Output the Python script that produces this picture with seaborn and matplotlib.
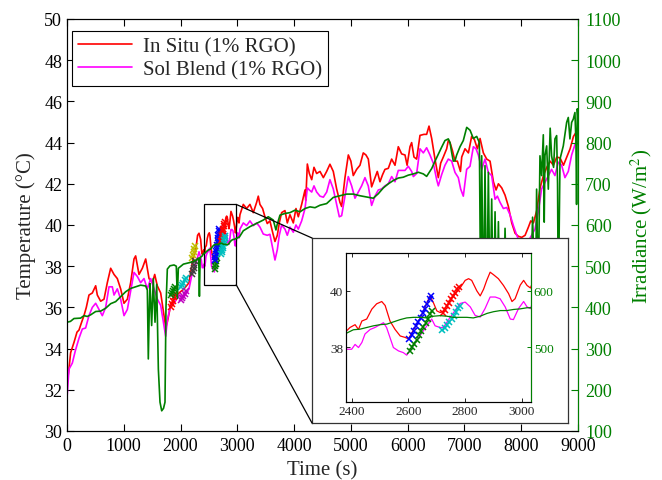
import numpy as np
import pandas as pd
import seaborn as sns
import matplotlib
matplotlib.use("Agg")
import matplotlib.pyplot as plt
from matplotlib.patches import Rectangle, ConnectionPatch
from matplotlib.lines import Line2D

# ---------------- data ----------------
# In Situ (1% RGO) temperature, deg C
t_insitu = [0, 30, 64, 123, 176, 211, 260, 299, 340, 387, 446, 505, 534, 593, 652, 710, 769, 828, 886, 945,
            1004, 1063, 1121, 1180, 1209, 1268, 1327, 1386, 1445, 1504, 1545, 1590, 1650, 1709, 1738, 1768, 1826,
            1885, 1973, 2061, 2149, 2208, 2267, 2300, 2325, 2354, 2372, 2382, 2394, 2412, 2424, 2436, 2453, 2471,
            2488, 2506, 2518, 2535, 2553, 2571, 2588, 2600, 2640, 2676, 2688, 2700, 2712, 2723, 2750, 2782, 2800,
            2812, 2823, 2841, 2853, 2865, 2876, 2888, 2900, 2917, 2935, 2953, 2965, 2976, 2994, 3006, 3018, 3030,
            3046, 3105, 3164, 3222, 3281, 3340, 3369, 3398, 3445, 3486, 3527, 3574, 3621, 3663, 3704, 3739, 3780,
            3839, 3880, 3927, 3986, 4033, 4074, 4133, 4192, 4205, 4233, 4268, 4310, 4350, 4397, 4456, 4515, 4573,
            4631, 4690, 4749, 4807, 4837, 4896, 4955, 5000, 5042, 5101, 5160, 5218, 5265, 5307, 5365, 5424, 5465,
            5512, 5559, 5600, 5659, 5718, 5777, 5835, 5894, 5953, 5990, 6041, 6070, 6111, 6158, 6217, 6287, 6334,
            6376, 6423, 6481, 6540, 6581, 6628, 6687, 6716, 6746, 6790, 6834, 6875, 6930, 6952, 7010, 7070, 7127,
            7175, 7228, 7275, 7333, 7392, 7451, 7510, 7557, 7598, 7657, 7715, 7774, 7833, 7892, 7950, 8009, 8068,
            8127, 8168, 8215, 8273, 8332, 8391, 8450, 8509, 8567, 8626, 8685, 8744, 8803, 8861, 8920, 8967, 9000]
T_insitu = [32.3, 32.9, 33.8, 34.3, 34.8, 34.9, 35.3, 35.6, 36.0, 36.6, 36.7, 37.05, 36.6, 36.3, 36.4, 37.2, 37.9,
            37.6, 37.4, 36.9, 36.2, 36.4, 37.2, 38.35, 38.5, 37.6, 37.9, 38.35, 37.4, 37.2, 37.6, 37.05, 36.7, 35.6,
            35.0, 35.3, 36.1, 36.4, 36.7, 36.9, 37.2, 38.2, 38.8, 39.5, 39.6, 39.3, 38.7, 38.58, 38.7, 38.8, 38.63,
            38.93, 39.0, 39.35, 39.54, 39.62, 39.48, 38.93, 38.63, 38.4, 38.35, 38.3, 39.0, 39.82, 39.58, 39.29,
            39.23, 39.29, 39.7, 40.1, 40.37, 40.43, 40.37, 40.0, 39.82, 40.06, 40.37, 40.66, 40.57, 40.43, 40.19,
            39.9, 39.62, 39.72, 40.2, 40.37, 40.19, 40.1, 40.5, 41.0, 40.8, 41.0, 40.6, 41.1, 41.4, 41.0, 40.8,
            40.4, 40.07, 40.2, 39.65, 39.2, 39.5, 40.1, 40.6, 40.7, 40.1, 40.5, 40.1, 40.8, 40.4, 41.0, 41.7, 41.2,
            42.96, 42.5, 42.2, 42.8, 42.5, 42.6, 42.3, 42.6, 42.95, 42.6, 41.75, 41.1, 40.9, 42.3, 43.4, 43.1,
            42.4, 42.7, 42.9, 43.5, 43.4, 43.2, 41.85, 42.3, 42.6, 42.1, 42.45, 42.7, 42.75, 43.2, 42.9, 43.8,
            43.45, 43.4, 42.9, 43.8, 44.0, 43.3, 43.2, 44.35, 44.4, 44.4, 44.8, 44.2, 43.2, 42.3, 43.0, 43.3,
            43.7, 44.1, 44.0, 43.6, 43.1, 43.1, 42.6, 43.3, 43.7, 43.5, 44.3, 44.15, 43.7, 44.2, 43.5, 43.2, 43.1,
            42.1, 41.7, 42.0, 41.8, 41.45, 40.9, 40.1, 39.6, 39.45, 39.4, 39.5, 39.9, 40.2, 40.1, 40.7, 41.8,
            42.4, 42.8, 43.1, 42.9, 43.3, 43.25, 42.9, 43.3, 43.7, 44.3, 44.5, 44.4]

# Sol Blend (1% RGO) temperature, deg C
t_solblend = [0, 35, 94, 147, 211, 270, 328, 387, 446, 505, 564, 622, 681, 740, 798, 828, 886, 945, 1004, 1063,
              1121, 1180, 1239, 1297, 1356, 1415, 1474, 1533, 1592, 1650, 1709, 1738, 1768, 1826, 1885, 1973,
              2061, 2149, 2208, 2267, 2325, 2366, 2382, 2400, 2412, 2424, 2436, 2447, 2465, 2482, 2500, 2512,
              2523, 2535, 2547, 2565, 2582, 2594, 2640, 2682, 2694, 2712, 2723, 2750, 2782, 2800, 2818, 2835,
              2853, 2870, 2888, 2906, 2923, 2941, 2959, 2970, 2988, 3006, 3018, 3030, 3046, 3105, 3164, 3222,
              3281, 3340, 3398, 3457, 3527, 3574, 3621, 3663, 3704, 3739, 3780, 3839, 3880, 3927, 3986, 4033,
              4074, 4133, 4192, 4233, 4268, 4310, 4350, 4397, 4456, 4515, 4574, 4631, 4690, 4749, 4796, 4837,
              4896, 4954, 5013, 5072, 5130, 5189, 5248, 5306, 5365, 5424, 5483, 5542, 5600, 5659, 5718, 5777,
              5835, 5894, 5953, 6011, 6070, 6100, 6158, 6217, 6276, 6334, 6393, 6452, 6511, 6540, 6599, 6657,
              6716, 6775, 6834, 6892, 6933, 6980, 7039, 7098, 7157, 7204, 7245, 7304, 7362, 7421, 7480, 7539,
              7580, 7627, 7686, 7745, 7803, 7862, 7921, 7980, 8040, 8100, 8183, 8242, 8300, 8359, 8418, 8477,
              8535, 8594, 8653, 8712, 8770, 8829, 8888, 8946, 8976, 9000]
T_solblend = [31.6, 33.0, 33.3, 33.9, 34.5, 34.95, 35.0, 35.6, 36.0, 36.2, 35.9, 35.6, 36.0, 37.0, 37.0, 36.6,
              36.9, 36.4, 35.6, 35.9, 36.8, 37.7, 37.5, 37.2, 37.4, 36.9, 37.4, 36.9, 36.4, 36.1, 35.1, 34.6,
              35.4, 36.1, 36.2, 36.6, 36.5, 36.9, 37.7, 38.1, 38.7, 38.3, 37.93, 37.93, 38.1, 37.99, 38.17,
              38.47, 38.63, 38.7, 38.8, 38.87, 38.7, 38.35, 37.99, 37.87, 37.81, 37.72, 38.4, 39.0, 38.76, 38.7,
              38.7, 39.1, 39.55, 39.6, 39.43, 39.13, 39.07, 39.37, 39.78, 39.78, 39.72, 39.43, 39.0, 38.98,
              39.37, 39.62, 39.43, 39.37, 39.8, 40.1, 39.97, 40.2, 39.97, 40.1, 39.9, 39.56, 39.5, 39.55, 38.9,
              38.3, 38.8, 39.5, 40.0, 39.8, 39.5, 39.9, 39.65, 40.0, 39.8, 40.2, 40.8, 41.8, 41.7, 41.6, 41.9,
              41.6, 41.4, 41.35, 41.6, 42.2, 41.75, 41.0, 40.4, 40.45, 41.4, 42.35, 41.9, 41.3, 41.6, 41.9, 42.3,
              41.9, 40.95, 41.4, 41.7, 41.75, 41.9, 42.0, 42.35, 42.1, 42.65, 42.65, 42.65, 42.85, 42.6, 42.35,
              42.5, 43.7, 43.5, 43.75, 43.4, 43.0, 42.2, 41.9, 42.45, 42.9, 43.2, 43.1, 42.55, 42.3, 41.75, 41.4,
              42.7, 42.85, 43.8, 43.7, 43.4, 42.7, 43.2, 42.55, 42.4, 41.25, 41.4, 41.1, 40.8, 40.85, 40.5, 39.97,
              39.5, 39.15, 39.0, 39.1, 39.5, 39.8, 40.65, 41.75, 42.07, 42.4, 42.7, 42.4, 43.05, 42.9, 42.3, 42.6,
              43.4, 43.9, 44.1, 43.9]

# Irradiance, W/m^2
t_irr = [0, 60, 123, 240, 299, 358, 417, 505, 593, 681,
         769, 857, 945, 1033, 1121, 1209, 1297, 1386, 1415, 1432,
         1450, 1462, 1491, 1520, 1550, 1580, 1609, 1638, 1668, 1700,
         1726, 1743, 1767, 1814, 1885, 1925, 1943, 1961, 2050, 2167,
         2285, 2320, 2332, 2345, 2382, 2406, 2429, 2453, 2477, 2500,
         2524, 2547, 2571, 2594, 2618, 2641, 2665, 2688, 2712, 2735,
         2759, 2782, 2806, 2829, 2853, 2877, 2900, 2924, 2947, 2971,
         2994, 3018, 3032, 3105, 3222, 3340, 3457, 3545, 3633, 3680,
         3700, 3751, 3839, 3927, 4015, 4104, 4192, 4280, 4368, 4456,
         4573, 4690, 4807, 4925, 5042, 5160, 5277, 5394, 5483, 5571,
         5659, 5747, 5835, 5923, 6011, 6100, 6188, 6276, 6334, 6423,
         6482, 6540, 6599, 6657, 6716, 6746, 6775, 6804, 6834, 6863,
         6922, 6980, 7040, 7099, 7157, 7216, 7263, 7285, 7304, 7333,
         7362, 7392, 7421, 7451, 7480, 7510, 7539, 7570, 7598, 7630,
         7657, 7690, 7715, 7760, 7800, 7850, 7900, 7950, 8000, 8050,
         8100, 8160, 8200, 8250, 8271, 8300, 8330, 8359, 8389, 8405,
         8418, 8448, 8477, 8510, 8535, 8570, 8594, 8624, 8640, 8653,
         8683, 8741, 8800, 8829, 8858, 8888, 8917, 8946, 8964, 8975,
         8988, 9000]
I_irr = [364, 366, 373, 374, 380, 378, 382, 390, 391, 398,
         409, 414, 426, 438, 446, 450, 454, 452, 442, 275,
         400, 458, 356, 470, 364, 456, 250, 170, 149, 155,
         170, 399, 493, 501, 503, 500, 422, 495, 505, 509,
         515, 520, 427, 521, 525, 531, 532, 535, 538, 540,
         541, 545, 549, 552, 553, 553, 552, 555, 556, 555,
         553, 553, 553, 552, 555, 560, 563, 565, 565, 567,
         568, 570, 570, 586, 596, 604, 612, 620, 612, 588,
         600, 624, 628, 630, 636, 632, 640, 644, 642, 648,
         652, 667, 671, 675, 675, 671, 668, 665, 676, 690,
         700, 708, 714, 716, 721, 724, 728, 724, 718, 737,
         755, 772, 789, 805, 809, 800, 776, 755, 756, 770,
         790, 805, 837, 830, 810, 815, 800, 420, 768, 380,
         744, 360, 728, 400, 663, 350, 632, 380, 608, 340,
         560, 400, 592, 350, 420, 360, 300, 380, 340, 320,
         360, 400, 619, 380, 687, 420, 768, 720, 819, 607,
         768, 792, 687, 835, 768, 740, 809, 817, 700, 400,
         760, 792, 849, 861, 809, 849, 857, 873, 801, 650,
         882, 860]

# fitted heating-rate segments (x markers)
seg_blue_t = [2603, 2611, 2619, 2627, 2635, 2643, 2651, 2659, 2667, 2675, 2680]
seg_blue_T = [38.28, 38.43, 38.58, 38.74, 38.9, 39.05, 39.2, 39.36, 39.52, 39.7, 39.82]
seg_green_t = [2605, 2613, 2621, 2629, 2637, 2645, 2653, 2661, 2669, 2677, 2682]
seg_green_T = [37.88, 38.0, 38.13, 38.27, 38.42, 38.57, 38.72, 38.86, 39.0, 39.18, 39.3]
seg_red_t = [2721, 2728, 2735, 2742, 2749, 2756, 2763, 2770, 2777]
seg_red_T = [39.2, 39.33, 39.45, 39.58, 39.7, 39.82, 39.93, 40.05, 40.15]
seg_cyan_t = [2720, 2728, 2736, 2744, 2752, 2760, 2768, 2776, 2782]
seg_cyan_T = [38.6, 38.7, 38.8, 38.9, 39.0, 39.12, 39.25, 39.38, 39.45]
seg_red2_t = [1840, 1855, 1870, 1885, 1900]
seg_red2_T = [36.0, 36.15, 36.3, 36.5, 36.65]
seg_green2_t = [1840, 1855, 1870, 1885, 1900]
seg_green2_T = [36.6, 36.7, 36.8, 36.9, 37.0]
seg_cyan2_t = [2010, 2030, 2050, 2070, 2090]
seg_cyan2_T = [37.0, 37.1, 37.2, 37.35, 37.45]
seg_mag2_t = [2010, 2030, 2050, 2070, 2090]
seg_mag2_T = [36.35, 36.45, 36.55, 36.65, 36.8]
seg_olive_t = [2200, 2215, 2230, 2245, 2260]
seg_olive_T = [38.4, 38.55, 38.7, 38.85, 39.0]
seg_gray_t = [2200, 2215, 2230, 2245, 2260]
seg_gray_T = [37.6, 37.75, 37.9, 38.05, 38.25]

series_labels = ["In Situ (1% RGO)", "Sol Blend (1% RGO)"]

RED, MAG, GRN = "#ff0000", "#ff00ff", "#008000"
segments = [
    (seg_olive_t, seg_olive_T, "#bfbf00"), (seg_gray_t, seg_gray_T, "#404040"),
    (seg_red2_t, seg_red2_T, RED), (seg_green2_t, seg_green2_T, GRN),
    (seg_cyan2_t, seg_cyan2_T, "#00bfbf"), (seg_mag2_t, seg_mag2_T, "#bf00bf"),
    (seg_green_t, seg_green_T, GRN), (seg_blue_t, seg_blue_T, "#0000ff"),
    (seg_red_t, seg_red_T, RED), (seg_cyan_t, seg_cyan_T, "#00bfbf"),
]

df_in = pd.DataFrame({"t": t_insitu, "T": T_insitu})
df_sb = pd.DataFrame({"t": t_solblend, "T": T_solblend})
df_ir = pd.DataFrame({"t": t_irr, "I": I_irr})

# ---------------- style ----------------
sns.set_style("ticks")
plt.rcParams["font.family"] = ["Liberation Serif", "DejaVu Serif"]
plt.rcParams["mathtext.fontset"] = "stix"
plt.rcParams["xtick.direction"] = "in"
plt.rcParams["ytick.direction"] = "in"

fig = plt.figure(figsize=(6.62, 4.81), dpi=100)
ax = fig.add_axes([67 / 662, 49 / 481, 511 / 662, 412 / 481])


def draw_series(a, a2, lw, ms):
    sns.lineplot(data=df_in, x="t", y="T", ax=a, color=RED, lw=lw, sort=False, estimator=None)
    sns.lineplot(data=df_sb, x="t", y="T", ax=a, color=MAG, lw=lw, sort=False, estimator=None)
    for st, sT, c in segments:
        a.plot(st, sT, ls=":", color=c, lw=0.8, marker="x", ms=ms, mew=1.1)
    sns.lineplot(data=df_ir, x="t", y="I", ax=a2, color=GRN, lw=lw, sort=False, estimator=None)


ax2 = ax.twinx()
draw_series(ax, ax2, 1.2, 5)

ax.set_xlim(0, 9000)
ax.set_ylim(30, 50)
ax.set_xticks(np.arange(0, 9001, 1000))
ax.set_yticks(np.arange(30, 51, 2))
ax2.set_ylim(100, 1100)
ax2.set_yticks(np.arange(100, 1101, 100))
ax.tick_params(axis="both", labelsize=13, length=5, width=0.8, top=True, colors="black")
ax.tick_params(axis="x", pad=4)
ax2.tick_params(axis="y", labelsize=13, length=5, width=0.8, colors=GRN, right=True, pad=5)
for s in ax.spines.values():
    s.set_linewidth(0.8)
    s.set_color("black")
for name, s in ax2.spines.items():
    s.set_linewidth(0.8)
    s.set_color(GRN if name == "right" else "black")
ax.set_xlabel("Time (s)", fontsize=15, labelpad=5)
ax.set_ylabel("Temperature (°C)", fontsize=15, labelpad=6)
ax2.set_ylabel("Irradiance (W/m$^2$)", fontsize=15, color=GRN, labelpad=6)

handles = [Line2D([], [], color=RED, lw=1.2), Line2D([], [], color=MAG, lw=1.2)]
leg = ax2.legend(handles, series_labels, loc="upper left", bbox_to_anchor=(0.0098, 0.971),
                 borderaxespad=0, fontsize=15, handlelength=2.6, handletextpad=0.5,
                 borderpad=0.3, labelspacing=0.15, fancybox=False, framealpha=1)
leg.get_frame().set_edgecolor("black")
leg.get_frame().set_linewidth(0.8)

# zoom window
ax.add_patch(Rectangle((2410, 37.1), 570, 3.9, fill=False, ec="black", lw=0.9, zorder=5))

# inset frame
box = fig.add_axes([312 / 662, 57 / 481, 256 / 662, 185 / 481])
box.set_xticks([])
box.set_yticks([])
box.set_facecolor("white")
for s in box.spines.values():
    s.set_linewidth(0.9)
    s.set_color("#333333")

for yA, yB in [(41.0, 1.0), (37.1, 0.0)]:
    con = ConnectionPatch(xyA=(2980, yA), coordsA=ax.transData, xyB=(0, yB), coordsB=box.transAxes,
                          color="black", lw=0.9)
    fig.add_artist(con)

ins = fig.add_axes([346 / 662, 78 / 481, 185 / 662, 149 / 481])
ins2 = ins.twinx()
draw_series(ins, ins2, 0.9, 4.5)
ins.set_xlim(2380, 3032)
ins.set_ylim(36.06, 41.34)
ins2.set_ylim(403, 667)
ins.set_xticks([2400, 2600, 2800, 3000])
ins.set_yticks([38, 40])
ins2.set_yticks([500, 600])
ins.tick_params(axis="both", labelsize=9.5, length=3, width=0.7, top=True, pad=2)
ins2.tick_params(axis="y", labelsize=9.5, length=3, width=0.7, colors=GRN, pad=2)
ins.set_xlabel("")
ins.set_ylabel("")
ins2.set_ylabel("")
for s in ins.spines.values():
    s.set_linewidth(0.8)
for name, s in ins2.spines.items():
    s.set_linewidth(0.8)
    s.set_color(GRN if name == "right" else "black")

fig.savefig("out.png", dpi=100)
